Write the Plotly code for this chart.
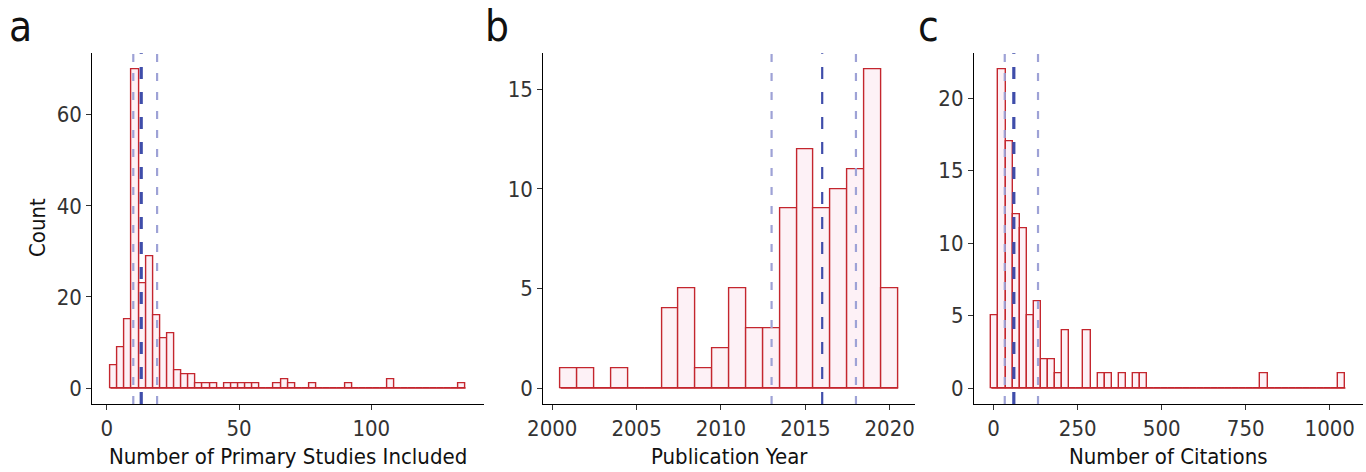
import plotly.graph_objects as go

# ---------------- data ----------------
# Panel a: Number of primary studies included (50 bins)
a_binwidth = 2.686
a_first_center = 2.686
a_counts = [5, 9, 15, 70, 23, 29, 16, 11, 12, 4, 3, 3, 1, 1, 1, 0, 1, 1, 1, 1,
            1, 0, 0, 1, 2, 1, 0, 0, 1, 0, 0, 0, 0, 1, 0, 0, 0, 0, 0, 2,
            0, 0, 0, 0, 0, 0, 0, 0, 0, 1]
a_quartiles = [10, 19]
a_median = 13

# Panel b: Publication year (1-year bins)
b_years = [2001, 2002, 2003, 2004, 2005, 2006, 2007, 2008, 2009, 2010,
           2011, 2012, 2013, 2014, 2015, 2016, 2017, 2018, 2019, 2020]
b_counts = [1, 1, 0, 1, 0, 0, 4, 5, 1, 2, 5, 3, 3, 9, 12, 9, 10, 11, 16, 5]
b_binwidth = 1
b_quartiles = [2013, 2018]
b_median = 2016

# Panel c: Number of citations (50 bins)
c_binwidth = 21.07
c_first_center = 3.7
c_counts = [5, 22, 17, 12, 11, 5, 6, 2, 2, 1, 4, 0, 0, 4, 0, 1, 1, 0, 1, 0,
            1, 1, 0, 0, 0, 0, 0, 0, 0, 0, 0, 0, 0, 0, 0, 0, 0, 0, 1, 0,
            0, 0, 0, 0, 0, 0, 0, 0, 0, 1]
c_quartiles = [33, 132]
c_median = 60

panel_letters = ["a", "b", "c"]
x_titles = ["Number of Primary Studies Included", "Publication Year", "Number of Citations"]
y_title = "Count"

a_xticks = [0, 50, 100]
b_xticks = [2000, 2005, 2010, 2015, 2020]
c_xticks = [0, 250, 500, 750, 1000]
a_yticks = [0, 20, 40, 60]
b_yticks = [0, 5, 10, 15]
c_yticks = [0, 5, 10, 15, 20]

# ---------------- styling ----------------
W, H = 1366, 472
FONT = "DejaVu Sans Condensed, Roboto, sans-serif"
EDGE = "#C4262E"
FILL = "#FDF1F6"
QCOL = "#9EA2D6"
MCOL = "#3F4DAA"

panels = [
    dict(centers=[a_first_center + i * a_binwidth for i in range(len(a_counts))],
         counts=a_counts, width=a_binwidth, q=a_quartiles, m=a_median, mw=3.2,
         xr=[-5.5, 142.6], yr=[-3.5, 73.5], xt=a_xticks, yt=a_yticks,
         px=(92.3, 484.0)),
    dict(centers=b_years, counts=b_counts, width=b_binwidth, q=b_quartiles, m=b_median, mw=2.2,
         xr=[1999.47, 2021.5], yr=[-0.8, 16.8], xt=b_xticks, yt=b_yticks,
         px=(543.3, 915.0)),
    dict(centers=[c_first_center + i * c_binwidth for i in range(len(c_counts))],
         counts=c_counts, width=c_binwidth, q=c_quartiles, m=c_median, mw=3.2,
         xr=[-58.5, 1099.0], yr=[-1.1, 23.1], xt=c_xticks, yt=c_yticks,
         px=(974.0, 1363.0)),
]

y_top_px, y_bot_px = 53.3, 404.0
ydom = [(H - y_bot_px) / H, (H - y_top_px) / H]

fig = go.Figure()
shapes = []
annotations = []

for k, p in enumerate(panels):
    sfx = "" if k == 0 else str(k + 1)
    xa, ya = "x" + sfx, "y" + sfx
    # baseline across all bins (zero-count bins in a histogram)
    left = p["centers"][0] - p["width"] / 2
    right = p["centers"][-1] + p["width"] / 2
    fig.add_trace(go.Scatter(x=[left, right], y=[0, 0], mode="lines",
                             line=dict(color=EDGE, width=1.4),
                             xaxis=xa, yaxis=ya, showlegend=False, hoverinfo="skip"))
    fig.add_trace(go.Bar(x=p["centers"], y=p["counts"], width=p["width"],
                         marker=dict(color=FILL, line=dict(color=EDGE, width=1.4)),
                         xaxis=xa, yaxis=ya, showlegend=False))
    for qv in p["q"]:
        shapes.append(dict(type="line", xref=xa, yref=ya + " domain", x0=qv, x1=qv, y0=0, y1=1,
                           line=dict(color=QCOL, width=2.2, dash="8px,11px"), layer="above"))
    shapes.append(dict(type="line", xref=xa, yref=ya + " domain", x0=p["m"], x1=p["m"], y0=0, y1=1,
                       line=dict(color=MCOL, width=p["mw"], dash="12px,13px"), layer="above"))

    xdom = [p["px"][0] / W, p["px"][1] / W]
    axis_common = dict(showline=True, linecolor="black", linewidth=1.1, ticks="outside",
                       ticklen=5, tickwidth=1, tickcolor="#333333", showgrid=False,
                       zeroline=False, automargin=False,
                       tickfont=dict(family=FONT, size=22, color="#333333"))
    fig.layout["xaxis" + sfx] = dict(domain=xdom, range=p["xr"], tickvals=p["xt"],
                                     anchor=ya, **axis_common)
    fig.layout["yaxis" + sfx] = dict(domain=ydom, range=p["yr"], tickvals=p["yt"],
                                     anchor=xa, **axis_common)

    annotations.append(dict(text=x_titles[k], xref="paper", yref="paper",
                            x=(p["px"][0] + p["px"][1]) / 2 / W, y=(H - 456) / H,
                            xanchor="center", yanchor="middle", showarrow=False,
                            font=dict(family=FONT, size=22, color="#111111")))
    letter_x = [20, 497, 928][k]
    annotations.append(dict(text=panel_letters[k], xref="paper", yref="paper",
                            x=letter_x / W, y=(H - 27) / H, xanchor="center", yanchor="middle",
                            showarrow=False, font=dict(family=FONT, size=42, color="#111111")))

annotations.append(dict(text=y_title, xref="paper", yref="paper", x=37 / W, y=(H - 228) / H,
                        xanchor="center", yanchor="middle", textangle=-90, showarrow=False,
                        font=dict(family=FONT, size=22, color="#111111")))

fig.update_layout(template="none", width=W, height=H, margin=dict(l=0, r=0, t=0, b=0, pad=0),
                  plot_bgcolor="white", paper_bgcolor="white", bargap=0,
                  shapes=shapes, annotations=annotations, font=dict(family=FONT))

post = ("document.body.style.margin='0';document.body.style.padding='0';"
        "document.body.style.overflow='hidden';"
        "var gd=document.getElementById('{plot_id}');"
        "Plotly.relayout(gd,{width:1366,height:472});")

fig.write_html("out.html", config={"responsive": False, "displayModeBar": False},
               post_script=post)
